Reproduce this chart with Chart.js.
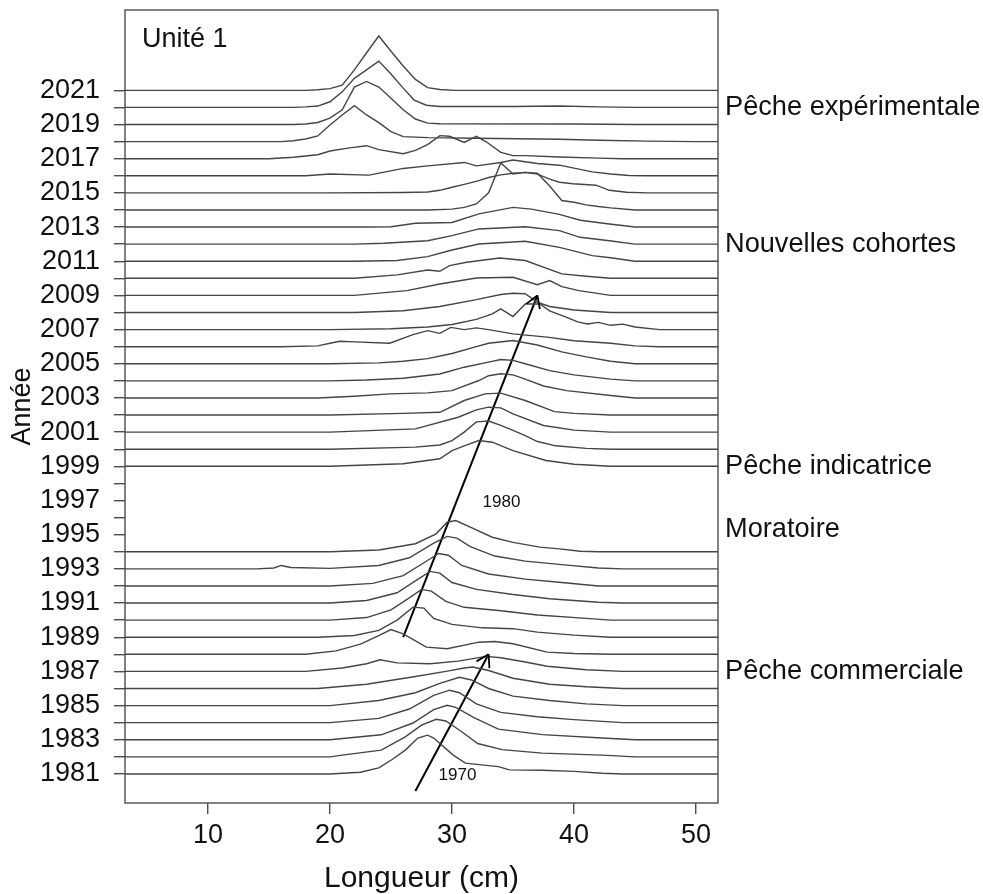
<!DOCTYPE html>
<html lang="fr">
<head>
<meta charset="utf-8">
<title>Unité 1 - Longueurs</title>
<script src="https://cdn.jsdelivr.net/npm/chart.js@4.4.1/dist/chart.umd.min.js"></script>
<style>
  html, body { margin: 0; padding: 0; background: #fff; }
  #cadre { width: 983px; height: 894px; }
</style>
</head>
<body>
<div id="cadre"><canvas id="graphique" width="983" height="894"></canvas></div>
<script>
// Bornes des axes
const xMin = 3.2, xMax = 51.8;
const yMin = 1979.3, yMax = 2025.7;

const graduationsX = [10, 20, 30, 40, 50];
const graduationsY = [];
for (let a = 1981; a <= 2021; a++) graduationsY.push(a);

// Années échantillonnées (pas de données 1995-1998)
const annees = [1981, 1982, 1983, 1984, 1985, 1986, 1987, 1988, 1989, 1990, 1991, 1992, 1993, 1994,
    1999, 2000, 2001, 2002, 2003, 2004, 2005, 2006, 2007, 2008, 2009, 2010,
    2011, 2012, 2013, 2014, 2015, 2016, 2017, 2018, 2019, 2020, 2021];

// Profils de fréquence : [longueur (cm), hauteur au-dessus de la ligne de base (en années)]
const profils = [
    [[20,0],[22.5,0.1],[24,0.35],[25,0.8],[26.2,1.41],[27.2,2.1],[28,2.27],[28.5,2.1],[30.1,1.1],[31.1,0.63],[32.4,0.53],[33.8,0.43],[34.7,0.24],[37.4,0.22],[40,0.15],[42.3,0.04],[44,0]],
    [[20,0],[21,0.1],[24.2,0.39],[26.2,1.18],[27.5,1.86],[28.7,2.2],[29.5,2.1],[30.8,1.47],[32.1,0.78],[34.1,0.42],[37.4,0.22],[42.3,0.1],[45,0]],
    [[20,0],[24.2,0.29],[26.8,0.98],[28.5,1.76],[29.6,2.02],[30.3,1.9],[31.8,1.3],[33.8,0.62],[37.4,0.3],[42.3,0.1],[45,0]],
    [[20,0],[24,0.25],[26.5,0.8],[28.5,1.6],[29.8,1.9],[30.6,1.75],[32,1.1],[34,0.6],[37,0.35],[40,0.18],[44,0]],
    [[20,0],[24,0.3],[27,0.75],[29,1.3],[30.6,1.66],[31.6,1.5],[33,1.0],[35,0.55],[38,0.3],[41,0.1],[44,0]],
    [[19,0],[23,0.25],[27,0.7],[29.5,1.0],[31,1.2],[31.7,1.26],[33,1.05],[35,0.6],[38,0.25],[41,0.1],[44,0]],
    [[18,0],[21,0.2],[23,0.45],[24.1,0.68],[25.5,0.5],[28.2,0.45],[30.5,0.6],[32.8,0.88],[34,0.8],[36,0.55],[37.8,0.3],[41,0.1],[44,0]],
    [[18,0],[20.5,0.2],[22.5,0.6],[24,1.1],[25,1.45],[26,1.2],[27.9,0.42],[29.6,0.33],[32.2,0.71],[33.5,0.75],[35,0.62],[37.8,0.13],[40,0.05],[43,0]],
    [[19,0],[22,0.1],[24,0.4],[25.5,1.0],[26.8,1.76],[27.7,1.7],[28.5,1.1],[30,0.75],[32.5,0.55],[35,0.5],[37,0.3],[40,0.12],[43,0]],
    [[20,0],[23,0.15],[25,0.6],[26.5,1.3],[27.5,1.8],[28.3,1.7],[29.5,1.1],[31,0.75],[34,0.55],[37,0.3],[41,0.1],[43,0]],
    [[20,0],[23,0.15],[25.5,0.6],[27,1.3],[28.2,1.85],[29,1.75],[30,1.2],[32,0.8],[35,0.5],[38,0.25],[42,0.05],[44,0]],
    [[20,0],[23.5,0.15],[26,0.6],[27.8,1.4],[28.9,1.9],[29.7,1.8],[30.8,1.2],[33,0.7],[36,0.4],[39,0.2],[42,0]],
    [[14,0],[15.4,0.05],[16,0.2],[16.8,0.08],[20,0.03],[24,0.2],[26.5,0.65],[28.5,1.5],[29.6,1.9],[30.4,1.8],[31.5,1.3],[33.5,0.75],[36,0.45],[39,0.25],[42,0.05],[44,0]],
    [[20,0],[24,0.1],[27,0.47],[28.7,1.05],[29.6,1.73],[30.3,1.83],[31.5,1.44],[33.3,0.85],[35,0.55],[37.2,0.27],[38.8,0.17],[40.5,0.03],[42,0]],
    [[20,0],[26,0.15],[29,0.44],[30,0.92],[31,1.2],[32.2,1.51],[33.3,1.41],[35,0.92],[37.7,0.34],[40,0.12],[43,0]],
    [[20,0],[27,0.12],[29,0.25],[30,0.5],[31,1.0],[32,1.6],[33,1.65],[34,1.4],[35,1.1],[36,0.8],[37,0.45],[38.5,0.2],[41,0.05],[43,0]],
    [[20,0],[27,0.19],[30.5,0.87],[32,1.3],[33,1.46],[34,1.42],[35,1.07],[37.5,0.39],[40,0.12],[43,0]],
    [[20,0],[26,0.1],[29,0.16],[31,0.85],[32.7,1.24],[34,1.28],[36,0.85],[38.4,0.2],[40,0.1],[43,0]],
    [[19,0],[22,0.1],[24.9,0.24],[28,0.3],[30,0.43],[32.2,1.02],[33,1.3],[34,1.42],[35,1.35],[36,1.1],[37.5,0.7],[39.4,0.43],[43,0.14],[45,0]],
    [[20,0],[23,0.05],[26,0.15],[29,0.4],[31,0.8],[33,1.1],[34,1.25],[35,1.2],[36,1.0],[38,0.6],[40,0.35],[43,0.1],[45,0]],
    [[20,0],[24,0.05],[26,0.15],[28,0.3],[30,0.6],[32,1.0],[33,1.2],[35,1.36],[37,1.1],[39,0.7],[41,0.4],[43,0.15],[45,0]],
    [[16,0],[19,0.05],[20,0.2],[20.8,0.32],[22,0.28],[24.9,0.2],[26.8,0.71],[28,0.94],[29,0.78],[29.9,1.13],[31,1.0],[32,1.1],[33,1.0],[35,0.75],[37.8,0.56],[40,0.35],[43,0.2],[45,0.05],[47,0]],
    [[20,0],[25,0.05],[28,0.15],[30,0.3],[32,0.6],[33.3,0.92],[34,1.21],[35,0.76],[36,1.5],[37.2,1.5],[38,1.1],[39.4,0.72],[40.3,0.45],[41.1,0.33],[42,0.42],[43,0.25],[44,0.32],[45,0.15],[47,0]],
    [[22,0],[26,0.1],[29,0.35],[32,0.75],[34,1.05],[35,1.13],[36,1.1],[37,0.6],[38,0.35],[40,0.15],[43,0]],
    [[22,0],[26.3,0.28],[29,0.67],[32,1.02],[35,1.06],[37,0.63],[38,0.87],[39,0.51],[40.4,0.28],[43,0]],
    [[22,0],[25.5,0.2],[28,0.49],[29,0.41],[29.8,0.74],[31.2,0.94],[33.9,1.19],[36,1.04],[39,0.26],[41,0.12],[43,0]],
    [[22,0],[25.5,0.04],[28,0.27],[30,0.66],[32.2,1.01],[36,1.17],[38.8,0.81],[41.5,0.33],[43,0.2],[45,0]],
    [[22,0],[24.4,0.05],[28,0.2],[30,0.5],[32.2,0.89],[36,1.02],[38.8,0.79],[40.5,0.4],[42.9,0.2],[45,0]],
    [[23,0],[25,0.02],[27,0.22],[30,0.27],[32.2,0.77],[35,1.15],[36.5,1.05],[38.8,0.74],[40.5,0.4],[42.9,0.18],[45,0]],
    [[28,0],[30,0.05],[31,0.15],[32,0.35],[33,1.0],[34,2.75],[35,2.1],[36,2.2],[37,2.15],[38,1.4],[39,0.55],[40,0.45],[41,0.3],[42,0.2],[43,0.12],[45,0]],
    [[20,0],[26,0.02],[28,0.05],[29,0.15],[30,0.33],[31,0.5],[32.2,0.72],[33,0.9],[34,1.05],[35,1.15],[36,1.2],[37,1.1],[38,0.8],[38.8,0.62],[39.9,0.53],[41.8,0.45],[42.9,0.15],[44.3,0.04],[46,0]],
    [[18,0],[20,0.1],[23.2,0.04],[26,0.43],[28,0.58],[31,0.78],[32,0.58],[34,0.78],[35,0.92],[37,0.72],[38.8,0.62],[40,0.45],[41.5,0.23],[43,0.1],[44.5,0.02],[46,0]],
    [[15,0],[17,0.08],[19,0.23],[20,0.45],[21.6,0.63],[23,0.76],[24,0.53],[26,0.29],[27,0.49],[28,0.82],[29,1.35],[29.8,1.31],[31,0.95],[32,1.31],[32.8,0.99],[34,0.37],[35,0.18],[36,0.18],[38.8,0.1],[42,0.03],[44,0]],
    [[16,0],[17,0.05],[18,0.15],[19,0.33],[20,0.97],[21,1.56],[22,2.1],[23,1.56],[24,1.11],[25,0.58],[26,0.29],[28,0.23],[32,0.2],[38.8,0.14],[42,0.08],[46,0.03],[50,0]],
    [[17,0],[18,0.03],[19,0.12],[20,0.37],[21,0.86],[22,2.19],[23,2.52],[24,2.19],[25,1.54],[26,0.86],[27,0.32],[28,0.08],[29,0.04],[40,0.03],[45,0]],
    [[17,0],[18,0.03],[19,0.08],[20,0.33],[21,0.91],[22,1.7],[24,2.71],[25,1.95],[26,1.13],[26.9,0.43],[27.9,0.13],[29,0.05],[35,0.05],[38.8,0.08],[42,0.03],[45,0]],
    [[18,0],[19,0.03],[20,0.1],[21,0.3],[22,1.2],[23,2.2],[24,3.18],[25,2.29],[26,1.42],[27,0.64],[28,0.16],[29,0.05],[30.3,0]]
];

// Périodes (texte à droite) et années correspondantes
const periodes = ["Pêche expérimentale", "Nouvelles cohortes", "Pêche indicatrice", "Moratoire", "Pêche commerciale"];
const anneesPeriodes = [2020, 2012, 1999, 1995.3, 1987];

// Flèches des cohortes [longueur, année]
const cohorte1970 = [[27, 1980], [33, 1988]];
const cohorte1980 = [[26, 1989], [37, 2009]];
const etiquettesCohortes = ["1970", "1980"];
const positionsEtiquettes = [[30.45, 1980.9], [34.05, 1996.9]];

const police = "'Liberation Sans', Arial, sans-serif";
const gris = "#454545";

const jeux = annees.map((annee, i) => ({
    data: [[xMin, 0], ...profils[i], [xMax, 0]].map(p => ({x: p[0], y: annee + p[1]})),
    borderColor: gris,
    borderWidth: 1.4,
    pointRadius: 0,
    tension: 0,
    fill: false
}));

[cohorte1970, cohorte1980].forEach(c => {
    jeux.push({
        data: c.map(p => ({x: p[0], y: p[1]})),
        borderColor: "#000",
        borderWidth: 2,
        pointRadius: 0,
        fill: false,
        fleche: true
    });
});

// Cadre, pointes de flèches et textes
const habillage = {
    id: "habillage",
    afterDraw(chart) {
        const {ctx, chartArea: a, scales: {x, y}} = chart;
        ctx.save();
        ctx.strokeStyle = "#4d4d4d";
        ctx.lineWidth = 1.4;
        ctx.strokeRect(a.left, a.top, a.right - a.left, a.bottom - a.top);

        chart.data.datasets.forEach((ds, i) => {
            if (!ds.fleche) return;
            const pts = chart.getDatasetMeta(i).data;
            const p0 = pts[0], p1 = pts[pts.length - 1];
            const ang = Math.atan2(p1.y - p0.y, p1.x - p0.x);
            ctx.strokeStyle = "#000";
            ctx.lineWidth = 1.8;
            ctx.beginPath();
            [-1, 1].forEach(s => {
                ctx.moveTo(p1.x, p1.y);
                ctx.lineTo(p1.x - 14 * Math.cos(ang + s * 0.55), p1.y - 14 * Math.sin(ang + s * 0.55));
            });
            ctx.stroke();
        });

        ctx.fillStyle = "#111";
        ctx.textBaseline = "middle";
        ctx.textAlign = "left";
        ctx.font = "27.2px " + police;
        periodes.forEach((t, i) => ctx.fillText(t, a.right + 7, y.getPixelForValue(anneesPeriodes[i])));
        ctx.font = "27px " + police;
        ctx.fillText("Unité 1", a.left + 17, a.top + 30);

        ctx.font = "17px " + police;
        ctx.textAlign = "center";
        etiquettesCohortes.forEach((t, i) => {
            ctx.fillText(t, x.getPixelForValue(positionsEtiquettes[i][0]), y.getPixelForValue(positionsEtiquettes[i][1]));
        });
        ctx.restore();
    }
};

new Chart(document.getElementById("graphique"), {
    type: "line",
    data: {datasets: jeux},
    options: {
        responsive: false,
        animation: false,
        events: [],
        layout: {padding: {left: 0, top: 10, right: 265, bottom: 0}},
        plugins: {legend: {display: false}, tooltip: {enabled: false}},
        scales: {
            x: {
                type: "linear",
                min: xMin,
                max: xMax,
                afterBuildTicks: s => { s.ticks = graduationsX.map(v => ({value: v})); },
                afterFit: s => { s.height = 91; s.paddingLeft = 0; s.paddingRight = 0; },
                border: {display: false},
                grid: {drawOnChartArea: false, tickLength: 11, color: "#4d4d4d", lineWidth: 1.4},
                ticks: {padding: 5, color: "#111", autoSkip: false, maxRotation: 0, font: {size: 27, family: police}},
                title: {display: true, text: "Longueur (cm)", color: "#111", font: {size: 30, family: police}, padding: {top: 0, bottom: -3}}
            },
            y: {
                type: "linear",
                min: yMin,
                max: yMax,
                afterBuildTicks: s => { s.ticks = graduationsY.map(v => ({value: v})); },
                afterFit: s => { s.width = 125; s.paddingTop = 0; s.paddingBottom = 0; },
                border: {display: false},
                grid: {drawOnChartArea: false, tickLength: 11, color: "#4d4d4d", lineWidth: 1.4},
                ticks: {
                    padding: 14, color: "#111", autoSkip: false, font: {size: 27, family: police},
                    callback: v => (v % 2 === 1 ? String(v) : "")
                },
                title: {display: true, text: "Année", color: "#111", font: {size: 27, family: police}, padding: {top: 6, bottom: 0}}
            }
        }
    },
    plugins: [habillage]
});
</script>
</body>
</html>
